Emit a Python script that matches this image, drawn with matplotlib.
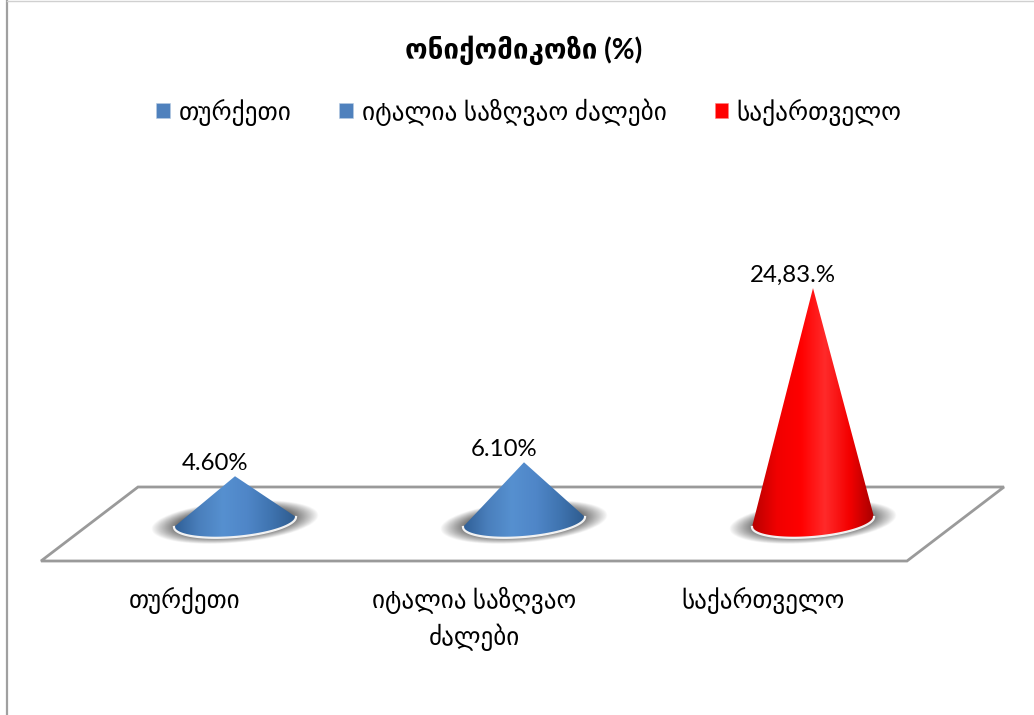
import numpy as np
import matplotlib
matplotlib.use('Agg')
import matplotlib.pyplot as plt
from matplotlib.patches import Patch, Polygon
from matplotlib.transforms import ScaledTranslation
from matplotlib.colors import LinearSegmentedColormap

plt.rcParams['font.family'] = ['Lato', 'DejaVu Sans']

# data
categories = ['თურქეთი', 'იტალია საზღვაო ძალები', 'საქართველო']
tick_labels = ['თურქეთი', 'იტალია საზღვაო\nძალები', 'საქართველო']
values = [4.60, 6.10, 24.83]
value_labels = ['4.60%', '6.10%', '24,83.%']
title = 'ონიქომიკოზი (%)'

colors = ['#4f81bd', '#4f81bd', '#ff0000']
cmap_blue = LinearSegmentedColormap.from_list('b', ['#2f5f96', '#4a7fbc', '#5690d0', '#4f86c8', '#3f74b0', '#2f5c8e'])
cmap_red = LinearSegmentedColormap.from_list('r', ['#b80000', '#f00000', '#ff0000', '#ff2a2a', '#f40000', '#a80000'])
cmaps = [cmap_blue, cmap_blue, cmap_red]

W, H = 1034, 715
fig = plt.figure(figsize=(W / 100, H / 100), dpi=100, facecolor='white')

# background layer in pixels: chart border and the floor
bg = fig.add_axes([0, 0, 1, 1], zorder=0)
bg.set_xlim(0, W)
bg.set_ylim(H, 0)
bg.axis('off')
bg.plot([7, 7], [0, H], color='#a0a0a0', lw=1.6)
bg.plot([7, W], [0.5, 0.5], color='#d0d0d0', lw=1)
floor = Polygon([(41, 561), (907, 561), (1004, 487), (138, 487)], closed=True,
                facecolor='white', edgecolor='#9a9a9a', lw=2)
bg.add_patch(floor)

# chart axes: one category = 289 px, one percent = 9.3 px, zero at y=519
sx, sy = 289.0, 9.3
y0 = 519
ax = fig.add_axes([0, 0, 1, 1], zorder=1)
ax.patch.set_alpha(0)
ax.set_xlim(-235 / sx, (W - 235) / sx)
ax.set_ylim(-(H - y0) / sy, y0 / sy)
for s in ax.spines.values():
    s.set_visible(False)
ax.set_yticks([])
ax.spines['bottom'].set_position(('data', -42 / sy))
ax.set_xticks(range(len(tick_labels)))
ax.set_xticklabels(tick_labels, fontsize=18, linespacing=1.42, va='top')
ax.tick_params(axis='x', length=0, pad=19)
for lab in ax.get_xticklabels():
    lab.set_transform(lab.get_transform() + ScaledTranslation(-50 / 100, 0, fig.dpi_scale_trans))

half_w = 61 / sx
semi_b = 15 / sy
tilt = 5 / sy
base_y = -3 / sy
t = np.linspace(np.pi, 2 * np.pi, 60)

for i, v in enumerate(values):
    # soft shadow on the floor
    gx = np.linspace(i - 95 / sx, i + 95 / sx, 220)
    gy = np.linspace(base_y - 32 / sy, base_y + 32 / sy, 120)
    X, Y = np.meshgrid(gx, gy)
    dx = (X - i) / (84 / sx)
    dy = (Y - base_y - tilt * (X - i) / half_w) / (21 / sy)
    r = np.sqrt(dx ** 2 + dy ** 2)
    alpha = np.clip((1.0 - r) / 0.32, 0, 1) ** 0.9 * 0.8
    rgba = np.zeros(X.shape + (4,))
    rgba[..., :3] = 0.28
    rgba[..., 3] = alpha
    ax.imshow(rgba, extent=[gx[0], gx[-1], gy[0], gy[-1]], origin='lower',
              aspect='auto', zorder=2, interpolation='bilinear')

    # cone outline
    ex = i + half_w * np.cos(t)
    ey = base_y + semi_b * np.sin(t) + tilt * np.cos(t)
    pts = np.column_stack([np.r_[i, ex], np.r_[v, ey]])
    cone = Polygon(pts, closed=True, facecolor='none', edgecolor='none', transform=ax.transData)
    ax.add_patch(cone)
    grad = np.linspace(0, 1, 200).reshape(1, -1)
    im = ax.imshow(grad, extent=[i - half_w, i + half_w, -4, v], aspect='auto',
                   cmap=cmaps[i], zorder=3, origin='lower')
    im.set_clip_path(cone)
    ax.plot(ex, ey, color='#f2f2f2', lw=1.6, zorder=4)
    ax.text(i - 20 / sx, v + 2 / sy, value_labels[i], ha='center', va='bottom',
            fontsize=17.3, color='black', zorder=5)

ax.set_xlim(-235 / sx, (W - 235) / sx)
ax.set_ylim(-(H - y0) / sy, y0 / sy)

# title and legend
bg.text(524, 50, title, ha='center', va='center', fontsize=20, fontweight='bold', color='black')
handles = [Patch(facecolor=c, edgecolor='#b8cce4' if c != '#ff0000' else '#ff8080', lw=0.4) for c in colors]
ax.legend(handles, categories, loc='center', bbox_to_anchor=(529 / W, 1 - 112 / H), ncol=3, frameon=False,
          fontsize=18.2, handlelength=0.55, handleheight=0.55, handletextpad=0.33, columnspacing=1.9)

fig.savefig('out.png', dpi=100)
